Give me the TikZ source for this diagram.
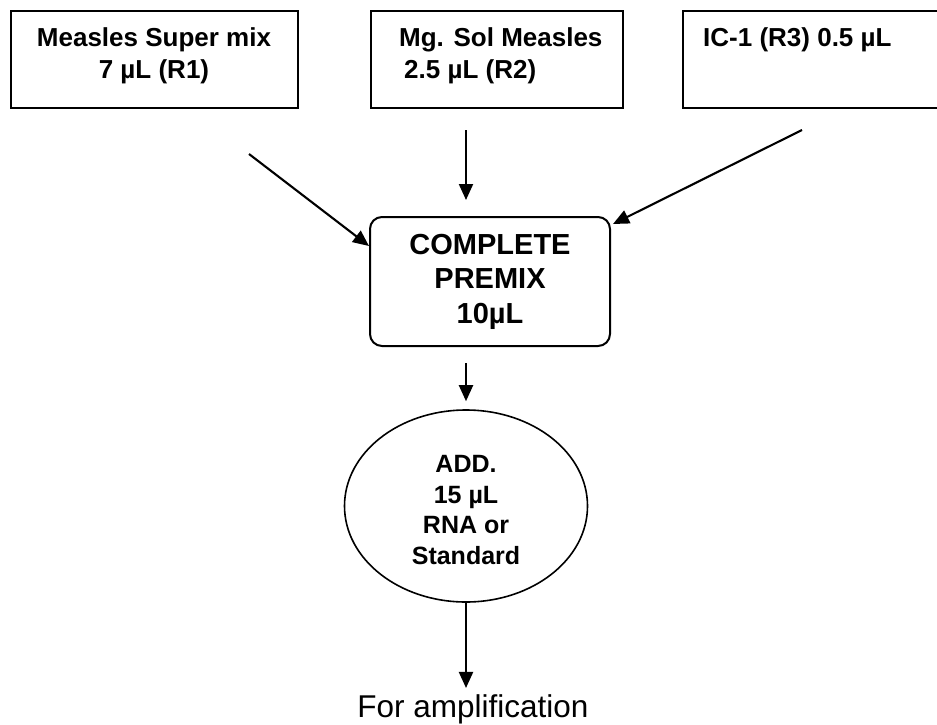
\documentclass[tikz,border=0pt]{standalone}
\usepackage{fontspec}
\setmainfont{Liberation Sans}
\usetikzlibrary{arrows.meta,shapes.geometric,calc}
\begin{document}
\begin{tikzpicture}[x=1pt,y=-1pt,
  boxstyle/.style={draw, line width=2pt, inner sep=0pt, anchor=north west},
  lbl/.style={font=\bfseries\fontsize{26}{32}\selectfont, inner sep=0pt, align=center},
  pmstyle/.style={draw, line width=2pt, rounded corners=12pt, minimum width=240pt, minimum height=129pt, align=center, font=\bfseries\fontsize{29}{34.5}\selectfont, inner sep=0pt},
  elstyle/.style={draw, ellipse, line width=1.6pt, minimum width=243pt, minimum height=192pt, inner sep=0pt, align=center, font=\bfseries\fontsize{25}{30.5}\selectfont},
  arr/.style={-{Triangle[length=16pt,width=14pt]}, line width=2.1pt}]
\useasboundingbox (0,0) rectangle (937,724);

\node[boxstyle, minimum width=287pt, minimum height=97pt] (b1) at (10,10) {};
\node[lbl, anchor=north] (t1) at (154,27) {Measles Super mix\\7 µL (R1)};
\node[boxstyle, minimum width=252pt, minimum height=97pt] (b2) at (370,10) {};
\node[lbl, align=left, anchor=north west] (t2) at (399,27) {Mg. Sol Measles\\\hspace*{5pt}2.5 µL (R2)};
\node[boxstyle, minimum width=280pt, minimum height=97pt] (b3) at (682,10) {};
\node[lbl, anchor=north west] (t3) at (703,27) {IC-1 (R3) 0.5 µL};

\node[pmstyle] (pm) at (490,281.5) {COMPLETE\\PREMIX\\10µL};
\node[elstyle] (el) at (466,506) {};
\node[font=\bfseries\fontsize{25}{30.5}\selectfont, inner sep=0pt, align=center] (elt) at (466,510) {ADD.\\15 µL\\RNA or\\Standard};
\node[font=\fontsize{31.5}{36}\selectfont, inner sep=0pt, anchor=base] (amp) at (473,717) {For amplification};

\coordinate (c1) at (249,154);
\coordinate (c2) at (466,130);
\coordinate (c3) at (802,130);
\draw[arr] (c1) -- ($(pm.north west)+(0,30)$);
\draw[arr, shorten >=16pt] (c2) -- (c2 |- pm.north);
\draw[arr] (c3) -- ($(pm.north east)+(2,8)$);
\draw[arr, shorten <=16pt, shorten >=8pt] (el.north |- pm.south) -- (el.north);
\draw[arr, shorten >=6pt] (el.south) -- (el.south |- amp.north);
\end{tikzpicture}
\end{document}
